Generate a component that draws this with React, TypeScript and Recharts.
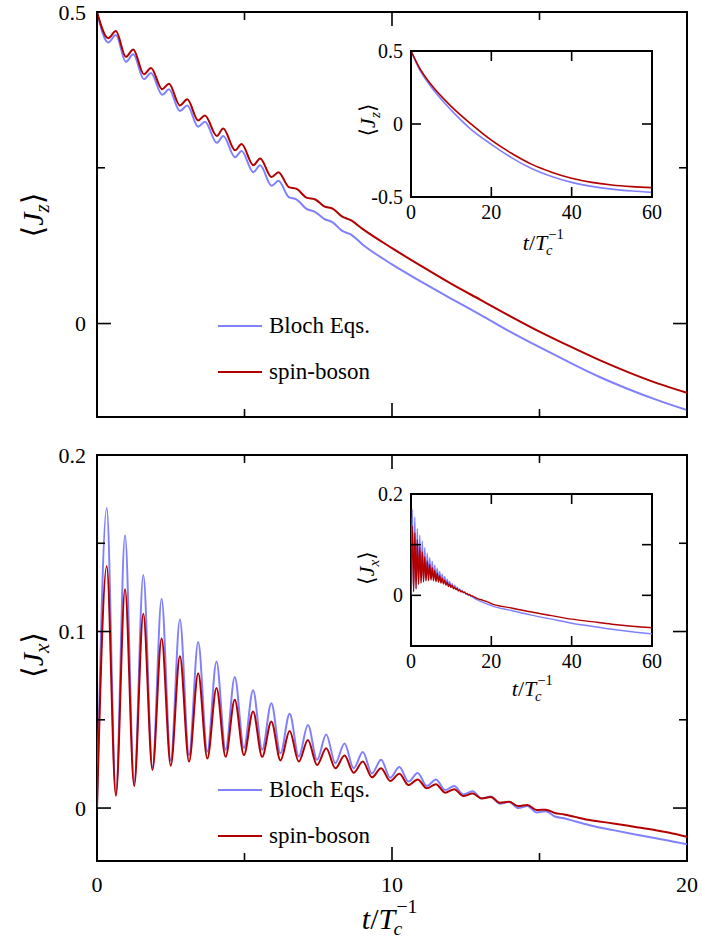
import React from 'react';
import { LineChart, Line, XAxis, YAxis, ReferenceArea } from 'recharts';

const tJz = [0, 0.38, 0.64, 0.98, 1.23, 1.59, 1.83, 2.21, 2.44, 2.81, 3.06, 3.43, 3.66, 4.06, 4.28, 4.68, 4.9, 5.3, 5.53, 5.92,
  6.15, 6.5, 6.77, 7.1, 7.4, 7.7, 8.0, 8.3, 8.6, 9, 10, 11, 12, 13, 14, 15, 16, 17, 18, 19, 20];
const blochJz = [0.5, 0.451, 0.463, 0.42, 0.432, 0.392, 0.402, 0.367, 0.376, 0.341, 0.35, 0.316, 0.324, 0.29, 0.301, 0.267, 0.277, 0.243, 0.254, 0.221,
  0.229, 0.203, 0.199, 0.184, 0.179, 0.168, 0.162, 0.149, 0.143, 0.127, 0.095, 0.067, 0.04, 0.014, -0.013, -0.038, -0.062, -0.085, -0.105, -0.123, -0.139];
const spinJz = [0.5, 0.458, 0.4695, 0.428, 0.44, 0.4, 0.41, 0.376, 0.385, 0.35, 0.36, 0.326, 0.334, 0.301, 0.313, 0.278, 0.288, 0.254, 0.265, 0.235,
  0.243, 0.219, 0.216, 0.202, 0.199, 0.188, 0.184, 0.172, 0.166, 0.152, 0.121, 0.092, 0.064, 0.038, 0.012, -0.013, -0.036, -0.058, -0.078, -0.096, -0.111];

// lower panel: <Jx>
const tJx = [0, 0.33, 0.64, 0.95, 1.26, 1.57, 1.88, 2.19, 2.5, 2.81, 3.12, 3.43, 3.74, 4.05, 4.36, 4.67, 4.98, 5.29, 5.6, 5.91,
  6.22, 6.53, 6.84, 7.15, 7.46, 7.77, 8.08, 8.39, 8.7, 9.01, 9.32, 9.63, 9.94, 10.25, 10.56, 10.87, 11.18, 11.49, 11.8, 12.11,
  12.42, 12.73, 13.04, 13.35, 13.66, 13.97, 14.28, 14.59, 14.9, 15.21, 15.52, 15.83, 16.2, 16.7, 17.5, 18.2, 18.9, 19.4, 20];
const blochJx = [0, 0.17, 0.008, 0.1545, 0.014, 0.132, 0.023, 0.1185, 0.027, 0.1068, 0.03, 0.094, 0.032, 0.083, 0.033, 0.0743, 0.034, 0.0667, 0.033, 0.0594,
  0.031, 0.0534, 0.0292, 0.047, 0.0273, 0.0416, 0.0254, 0.0366, 0.0225, 0.0318, 0.0196, 0.0273, 0.0172, 0.0232, 0.015, 0.0198, 0.0125, 0.0162, 0.0102, 0.0125,
  0.0077, 0.0095, 0.0055, 0.0066, 0.0025, 0.0035, 0.0, 0.0012, -0.0025, -0.0018, -0.0048, -0.0058, -0.0075, -0.0097, -0.0125, -0.0148, -0.017, -0.0185, -0.0205];
const spinJx = [0, 0.137, 0.007, 0.124, 0.0125, 0.11, 0.0216, 0.096, 0.024, 0.086, 0.0263, 0.0764, 0.028, 0.068, 0.029, 0.0614, 0.03, 0.0547, 0.029, 0.049,
  0.027, 0.0436, 0.0263, 0.0386, 0.0244, 0.0339, 0.0225, 0.0297, 0.02, 0.0263, 0.0174, 0.0225, 0.0153, 0.0194, 0.013, 0.0162, 0.0112, 0.0135, 0.0087, 0.0107,
  0.0068, 0.0082, 0.0054, 0.0062, 0.003, 0.0035, 0.0011, 0.0017, -0.0011, -0.0009, -0.0028, -0.0036, -0.005, -0.0068, -0.0087, -0.0106, -0.0125, -0.014, -0.0163];

// insets, long times
const tJzLong = [0, 2, 5, 10, 15, 20, 25, 30, 35, 40, 45, 50, 55, 60];
const blochJzLong = [0.5, 0.38, 0.255, 0.095, -0.038, -0.139, -0.23, -0.305, -0.36, -0.4, -0.427, -0.446, -0.459, -0.468];
const spinJzLong = [0.5, 0.39, 0.27, 0.121, -0.001, -0.111, -0.2, -0.275, -0.33, -0.372, -0.4, -0.418, -0.429, -0.436];

const tJxTail = [25, 30, 35, 40, 45, 50, 55, 60];
const blochJxTail = [-0.03, -0.039, -0.047, -0.055, -0.061, -0.067, -0.072, -0.076];
const spinJxTail = [-0.025, -0.033, -0.04, -0.047, -0.052, -0.057, -0.061, -0.064];

const rowsJz = tJz.map((t, i) => ({ t, bloch: blochJz[i], spin: spinJz[i] }));
const rowsJx = tJx.map((t, i) => ({ t, bloch: blochJx[i], spin: spinJx[i] }));
const rowsJzLong = tJzLong.map((t, i) => ({ t, bloch: blochJzLong[i], spin: spinJzLong[i] }));
const rowsJxLong = rowsJx.concat(tJxTail.map((t, i) => ({ t, bloch: blochJxTail[i], spin: spinJxTail[i] })));

const W = 702;
const H = 941;
const FONT = '"Liberation Serif", "DejaVu Serif", "Times New Roman", serif';
const BLUE = '#8080ff';
const RED = '#b20000';

type Box = { x0: number; y0: number; x1: number; y1: number };
type PanelProps = {
  rows: any[];
  box: Box;
  xDomain: [number, number];
  yDomain: [number, number];
  xTicks: number[];
  yTicks: number[];
  xMajor: number[];
  yMajor: number[];
  xLabels: Record<string, string>;
  yLabels: Record<string, string>;
  big: number;
  small: number;
  fontSize: number;
  xGap: number;
  yGap: number;
  lineWidth: number;
};

const Panel = (p: PanelProps) => {
  const b = p.box;
  const xt = (props: any) => {
    const v = props.payload.value;
    const x = props.x;
    const len = p.xMajor.includes(v) ? p.big : p.small;
    const txt = p.xLabels[String(v)];
    return (
      <g>
        <line x1={x} x2={x} y1={b.y1} y2={b.y1 - len} stroke="#000" strokeWidth={1.6} />
        <line x1={x} x2={x} y1={b.y0} y2={b.y0 + len} stroke="#000" strokeWidth={1.6} />
        {txt !== undefined && (
          <text x={x} y={b.y1 + p.xGap} textAnchor="middle" dominantBaseline="central"
            fontSize={p.fontSize} fontFamily={FONT} fill="#000">{txt}</text>
        )}
      </g>
    );
  };
  const yt = (props: any) => {
    const v = props.payload.value;
    const y = props.y;
    const len = p.yMajor.includes(v) ? p.big : p.small;
    const txt = p.yLabels[String(v)];
    return (
      <g>
        <line x1={b.x0} x2={b.x0 + len} y1={y} y2={y} stroke="#000" strokeWidth={1.6} />
        <line x1={b.x1} x2={b.x1 - len} y1={y} y2={y} stroke="#000" strokeWidth={1.6} />
        {txt !== undefined && (
          <text x={b.x0 - p.yGap} y={y} textAnchor="end" dominantBaseline="central"
            fontSize={p.fontSize} fontFamily={FONT} fill="#000">{txt}</text>
        )}
      </g>
    );
  };
  return (
    <div style={{ position: 'absolute', left: 0, top: 0 }}>
      <LineChart width={W} height={H} data={p.rows}
        margin={{ top: b.y0, right: W - b.x1, bottom: 0, left: 0 }}>
        <XAxis dataKey="t" type="number" domain={p.xDomain} ticks={p.xTicks} interval={0} allowDataOverflow
          height={H - b.y1} axisLine={false} tickLine={false} tick={xt} />
        <YAxis type="number" domain={p.yDomain} ticks={p.yTicks} interval={0} allowDataOverflow
          width={b.x0} axisLine={false} tickLine={false} tick={yt} />
        <Line dataKey="bloch" type="monotoneX" stroke={BLUE} strokeWidth={p.lineWidth} dot={false} isAnimationActive={false} />
        <Line dataKey="spin" type="monotoneX" stroke={RED} strokeWidth={p.lineWidth} dot={false} isAnimationActive={false} />
        <ReferenceArea x1={p.xDomain[0]} x2={p.xDomain[1]} y1={p.yDomain[0]} y2={p.yDomain[1]}
          fill="none" stroke="#000" strokeWidth={2} />
      </LineChart>
    </div>
  );
};

const YTitle = ({ cx, cy, size, sub }: { cx: number; cy: number; size: number; sub: string }) => (
  <div style={{
    position: 'absolute', left: cx, top: cy, transform: 'translate(-50%,-50%) rotate(-90deg)',
    fontFamily: FONT, fontSize: size, whiteSpace: 'nowrap', lineHeight: 1,
  }}>
    ⟨<i>J</i><i style={{ fontSize: '0.7em', position: 'relative', top: '0.3em' }}>{sub}</i>⟩
  </div>
);

const TTitle = ({ cx, cy, size }: { cx: number; cy: number; size: number }) => (
  <div style={{
    position: 'absolute', left: cx, top: cy, transform: 'translate(-50%,-50%)',
    fontFamily: FONT, fontSize: size, whiteSpace: 'nowrap', lineHeight: 1,
  }}>
    <i>t</i>/<i>T</i>
    <span style={{ display: 'inline-block', position: 'relative', width: size * 0.9, height: size }}>
      <span style={{ position: 'absolute', left: size * 0.04, top: -size * 0.06, fontSize: size * 0.66, lineHeight: 1 }}>−1</span>
      <i style={{ position: 'absolute', left: -size * 0.06, top: size * 0.66, fontSize: size * 0.66, lineHeight: 1 }}>c</i>
    </span>
  </div>
);

const LegendRows = ({ y1, y2 }: { y1: number; y2: number }) => (
  <>
    <div style={{ position: 'absolute', left: 218, top: y1 - 1, width: 44, height: 2, background: BLUE }} />
    <div style={{ position: 'absolute', left: 269, top: y1 - 13, fontFamily: FONT, fontSize: 23, lineHeight: '26px' }}>Bloch Eqs.</div>
    <div style={{ position: 'absolute', left: 218, top: y2 - 1, width: 44, height: 2, background: RED }} />
    <div style={{ position: 'absolute', left: 269, top: y2 - 13, fontFamily: FONT, fontSize: 23, lineHeight: '26px' }}>spin-boson</div>
  </>
);

export default function App() {
  return (
    <div style={{ position: 'absolute', left: 0, top: 0, width: W, height: H, background: '#fff' }}>
      <Panel rows={rowsJz} box={{ x0: 97, y0: 12, x1: 687, y1: 417 }} xDomain={[0, 20]} yDomain={[-0.15, 0.5]}
        xTicks={[0, 5, 10, 15, 20]} yTicks={[0, 0.25, 0.5]} xMajor={[0, 10, 20]} yMajor={[0, 0.5]}
        xLabels={{}} yLabels={{ '0': '0', '0.5': '0.5' }} big={14} small={8} fontSize={22} xGap={23} yGap={11}
        lineWidth={2} />
      <Panel rows={rowsJx} box={{ x0: 97, y0: 455, x1: 687, y1: 861 }} xDomain={[0, 20]} yDomain={[-0.03, 0.2]}
        xTicks={[0, 5, 10, 15, 20]} yTicks={[0, 0.05, 0.1, 0.15, 0.2]} xMajor={[0, 10, 20]} yMajor={[0, 0.1, 0.2]}
        xLabels={{ '0': '0', '10': '10', '20': '20' }} yLabels={{ '0': '0', '0.1': '0.1', '0.2': '0.2' }}
        big={14} small={8} fontSize={22} xGap={23} yGap={11} lineWidth={2} />
      <Panel rows={rowsJzLong} box={{ x0: 411, y0: 51, x1: 652, y1: 197 }} xDomain={[0, 60]} yDomain={[-0.5, 0.5]}
        xTicks={[0, 20, 40, 60]} yTicks={[-0.5, 0, 0.5]} xMajor={[0, 20, 40, 60]} yMajor={[-0.5, 0, 0.5]}
        xLabels={{ '0': '0', '20': '20', '40': '40', '60': '60' }} yLabels={{ '-0.5': '-0.5', '0': '0', '0.5': '0.5' }}
        big={10} small={10} fontSize={20} xGap={15} yGap={8} lineWidth={1.6} />
      <Panel rows={rowsJxLong} box={{ x0: 411, y0: 494, x1: 652, y1: 646 }} xDomain={[0, 60]} yDomain={[-0.1, 0.2]}
        xTicks={[0, 20, 40, 60]} yTicks={[-0.1, 0, 0.1, 0.2]} xMajor={[0, 20, 40, 60]} yMajor={[-0.1, 0, 0.1, 0.2]}
        xLabels={{ '0': '0', '20': '20', '40': '40', '60': '60' }} yLabels={{ '0': '0', '0.2': '0.2' }}
        big={10} small={10} fontSize={20} xGap={15} yGap={8} lineWidth={1.4} />

      <LegendRows y1={326} y2={372} />
      <LegendRows y1={790} y2={836} />

      <YTitle cx={33} cy={215} size={30} sub="z" />
      <YTitle cx={33} cy={655} size={30} sub="x" />
      <YTitle cx={368} cy={120} size={22} sub="z" />
      <YTitle cx={367} cy={568} size={22} sub="x" />

      <TTitle cx={392} cy={916} size={30} />
      <TTitle cx={545} cy={241} size={22} />
      <TTitle cx={534} cy={687} size={22} />
    </div>
  );
}
